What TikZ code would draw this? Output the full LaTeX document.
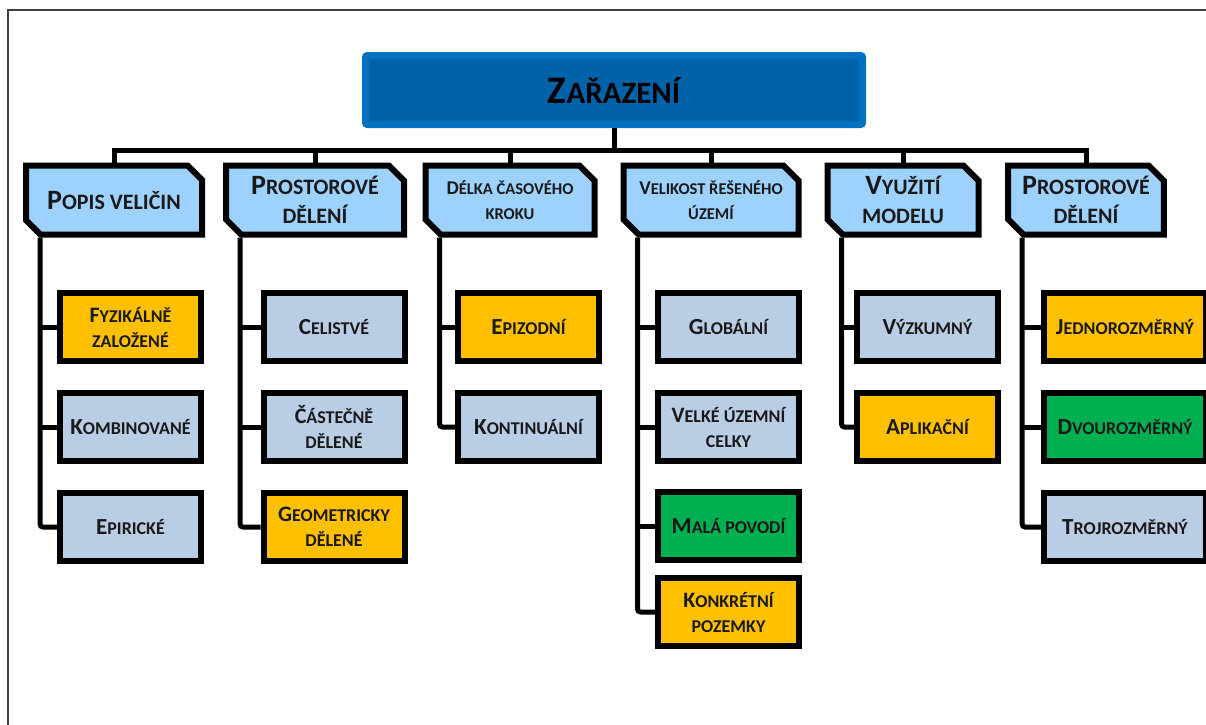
\documentclass[tikz,border=0pt]{standalone}
\usepackage{fontspec}
\setmainfont{Carlito}
\usetikzlibrary{positioning,shapes.misc,shadows}
\definecolor{topfill}{RGB}{0,98,168}
\definecolor{topline}{RGB}{0,114,193}
\definecolor{catblue}{RGB}{157,210,255}
\definecolor{steel}{RGB}{185,205,229}
\definecolor{amber}{RGB}{255,192,0}
\definecolor{leaf}{RGB}{0,176,80}
\newcommand{\capsz}{27}
\newcommand{\Cap}[1]{{\fontsize{\capsz}{0}\selectfont #1}}
\newcommand{\titlefont}{\bfseries\fontsize{31}{36}\selectfont\renewcommand{\capsz}{39}}
\newcommand{\catfont}{\bfseries\fontsize{22}{29}\selectfont\renewcommand{\capsz}{28}}
\newcommand{\catsmall}{\bfseries\fontsize{16.5}{25}\selectfont\renewcommand{\capsz}{19.5}}
\newcommand{\itemfont}{\bfseries\fontsize{18}{25}\selectfont\renewcommand{\capsz}{23}}
\newcommand{\itemtwo}{\bfseries\fontsize{18}{25}\selectfont\renewcommand{\capsz}{22}}

\begin{document}
\begin{tikzpicture}[
  x=1pt, y=-1pt,
  topbox/.style={draw=topline, line width=7pt, fill=topfill, rounded corners=2pt,
    minimum width=497pt, minimum height=69pt, font=\titlefont, text=black},
  catbox/.style={chamfered rectangle, chamfered rectangle corners={north east,south west},
    chamfered rectangle xsep=12pt, draw=black, line width=6pt, fill=catblue,
    minimum height=69pt, align=center, font=\catfont, inner sep=2pt, text=black!90,
    drop shadow={shadow xshift=2pt, shadow yshift=-2pt, opacity=0.2}},
  itembox/.style={draw=black, line width=6pt, minimum width=141pt, minimum height=68pt,
    align=center, font=\itemfont, inner sep=2pt, text=black!90,
    drop shadow={shadow xshift=3pt, shadow yshift=-3pt, opacity=0.2}},
  steelbox/.style={itembox, fill=steel},
  amberbox/.style={itembox, fill=amber},
  leafbox/.style={itembox, fill=leaf},
  conn/.style={line width=5pt},
  trunk/.style={line width=5pt, rounded corners=3pt},
  frame/.style={line width=2.5pt, black!75}
]
\useasboundingbox (0,0) rectangle (1206,724);
\clip (0,0) rectangle (1206,724);
\draw[frame] (8,730) -- (8,10) -- (1212,10);

\node[topbox] (top) at (614,90) {\Cap{Z}AŘAZENÍ};

\node[catbox, minimum width=176pt] (cat1) at (114,200) {\Cap{P}OPIS VELIČIN};
\node[catbox, minimum width=178pt] (cat2) at (315,200) {\Cap{P}ROSTOROVÉ\\DĚLENÍ};
\node[catbox, minimum width=169pt, font=\catsmall] (cat3) at (510,200) {\Cap{D}ÉLKA ČASOVÉHO\\KROKU};
\node[catbox, minimum width=175pt, font=\catsmall] (cat4) at (711,200) {\Cap{V}ELIKOST ŘEŠENÉHO\\ÚZEMÍ};
\node[catbox, minimum width=151pt] (cat5) at (903,200) {\Cap{V}YUŽITÍ\\MODELU};
\node[catbox, minimum width=150pt] (cat6) at (1086,200) {\Cap{P}ROSTOROVÉ\\DĚLENÍ};

\node[amberbox, font=\itemtwo] (c11) at (130.5,327) {\Cap{F}YZIKÁLNĚ\\ZALOŽENÉ};
\node[steelbox] (c12) at (130.5,427) {\Cap{K}OMBINOVANÉ};
\node[steelbox] (c13) at (130.5,527) {\Cap{E}PIRICKÉ};

\node[steelbox] (c21) at (334,327) {\Cap{C}ELISTVÉ};
\node[steelbox, font=\itemtwo] (c22) at (334,427) {\Cap{Č}ÁSTEČNĚ\\DĚLENÉ};
\node[amberbox, font=\itemtwo] (c23) at (334,527) {\Cap{G}EOMETRICKY\\DĚLENÉ};

\node[amberbox] (c31) at (528.5,327) {\Cap{E}PIZODNÍ};
\node[steelbox] (c32) at (528.5,427) {\Cap{K}ONTINUÁLNÍ};

\node[steelbox] (c41) at (728.5,327) {\Cap{G}LOBÁLNÍ};
\node[steelbox, font=\itemtwo] (c42) at (728.5,427) {\Cap{V}ELKÉ ÚZEMNÍ\\CELKY};
\node[leafbox] (c43) at (728.5,526) {\Cap{M}ALÁ POVODÍ};
\node[amberbox, font=\itemtwo] (c44) at (728.5,612) {\Cap{K}ONKRÉTNÍ\\POZEMKY};

\node[steelbox] (c51) at (927.5,327) {\Cap{V}ÝZKUMNÝ};
\node[amberbox] (c52) at (927.5,427) {\Cap{A}PLIKAČNÍ};

\node[amberbox, minimum width=162pt] (c61) at (1125,327) {\Cap{J}EDNOROZMĚRNÝ};
\node[leafbox, minimum width=162pt] (c62) at (1125,427) {\Cap{D}VOUROZMĚRNÝ};
\node[steelbox, minimum width=162pt] (c63) at (1125,527) {\Cap{T}ROJROZMĚRNÝ};

\draw[conn] (top.south) -- (top.south |- 0,150) coordinate (bus);
\draw[conn] (cat1.north) |- (bus) -| (cat6.north);
\draw[conn] (bus -| cat2.north) -- (cat2.north);
\draw[conn] (bus -| cat3.north) -- (cat3.north);
\draw[conn] (bus -| cat4.north) -- (cat4.north);
\draw[conn] (bus -| cat5.north) -- (cat5.north);

\coordinate (t1) at ([xshift=17pt]cat1.west);
\coordinate (t2) at ([xshift=17pt]cat2.west);
\coordinate (t3) at ([xshift=17pt]cat3.west);
\coordinate (t4) at ([xshift=17pt]cat4.west);
\coordinate (t5) at ([xshift=17pt]cat5.west);
\coordinate (t6) at ([xshift=17pt]cat6.west);

\draw[trunk] (t1 |- cat1.south) |- (c13.west);
\draw[conn] (t1 |- c11.west) -- (c11.west);
\draw[conn] (t1 |- c12.west) -- (c12.west);
\draw[trunk] (t2 |- cat2.south) |- (c23.west);
\draw[conn] (t2 |- c21.west) -- (c21.west);
\draw[conn] (t2 |- c22.west) -- (c22.west);
\draw[trunk] (t3 |- cat3.south) |- (c32.west);
\draw[conn] (t3 |- c31.west) -- (c31.west);
\draw[trunk] (t4 |- cat4.south) |- (c44.west);
\draw[conn] (t4 |- c41.west) -- (c41.west);
\draw[conn] (t4 |- c42.west) -- (c42.west);
\draw[conn] (t4 |- c43.west) -- (c43.west);
\draw[trunk] (t5 |- cat5.south) |- (c52.west);
\draw[conn] (t5 |- c51.west) -- (c51.west);
\draw[trunk] (t6 |- cat6.south) |- (c63.west);
\draw[conn] (t6 |- c61.west) -- (c61.west);
\draw[conn] (t6 |- c62.west) -- (c62.west);
\end{tikzpicture}
\end{document}
